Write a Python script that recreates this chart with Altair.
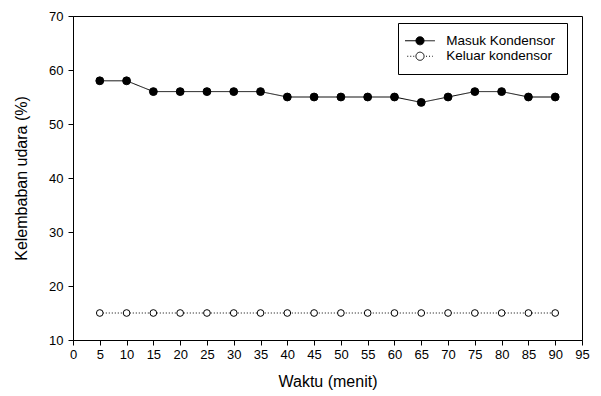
import altair as alt
import pandas as pd

# data
waktu = [5, 10, 15, 20, 25, 30, 35, 40, 45, 50, 55, 60, 65, 70, 75, 80, 85, 90]
masuk = [58, 58, 56, 56, 56, 56, 56, 55, 55, 55, 55, 55, 54, 55, 56, 56, 55, 55]
keluar = [15, 15, 15, 15, 15, 15, 15, 15, 15, 15, 15, 15, 15, 15, 15, 15, 15, 15]
series_names = ["Masuk Kondensor", "Keluar kondensor"]
x_ticks = list(range(0, 100, 5))
y_ticks = [10, 20, 30, 40, 50, 60, 70]

rows = []
for t, v in zip(waktu, masuk):
    rows.append({"waktu": t, "nilai": v, "seri": series_names[0], "seri2": series_names[0]})
for t, v in zip(waktu, keluar):
    rows.append({"waktu": t, "nilai": v, "seri": series_names[1], "seri2": series_names[1]})
df = pd.DataFrame(rows)

FONT = "Liberation Sans"

x_enc = alt.X(
    "waktu:Q",
    scale=alt.Scale(domain=[0, 95], nice=False),
    axis=alt.Axis(values=x_ticks, title="Waktu (menit)", grid=False, tickSize=5,
                  labelPadding=3, titlePadding=12, labelFontSize=13, titleFontSize=16,
                  labelFlush=False, titleFontWeight="normal", labelFont=FONT, titleFont=FONT,
                  domainColor="black", tickColor="black", labelColor="black", titleColor="black"),
)
y_enc = alt.Y(
    "nilai:Q",
    scale=alt.Scale(domain=[10, 70], nice=False),
    axis=alt.Axis(values=y_ticks, title="Kelembaban udara (%)", grid=False, tickSize=5,
                  labelPadding=5, titlePadding=19, labelFontSize=13, titleFontSize=16,
                  labelFlush=False, titleFontWeight="normal", labelFont=FONT, titleFont=FONT,
                  domainColor="black", tickColor="black", labelColor="black", titleColor="black"),
)

LX, LY = 325, 7

lines = alt.Chart(df).mark_line(color="black", strokeWidth=1).encode(
    x=x_enc,
    y=y_enc,
    strokeDash=alt.StrokeDash(
        "seri:N",
        scale=alt.Scale(domain=series_names, range=[[1, 0], [1, 2]]),
        legend=alt.Legend(
            title=None, orient="none", legendX=LX, legendY=LY,
            symbolType="M-3.8,0H-0.9M0.9,0H3.8", symbolSize=100,
            symbolStrokeColor="black", symbolStrokeWidth=1,
            symbolOffset=4.25, labelOffset=19.5,
            labelFont=FONT, labelFontSize=13.5, labelColor="black",
            padding=11, rowPadding=0.5, strokeColor="black",
        ),
    ),
)

points = alt.Chart(df).mark_point(shape="circle", filled=True, stroke="black",
                                  strokeWidth=1, opacity=1).encode(
    x=x_enc,
    y=y_enc,
    fill=alt.Fill(
        "seri2:N",
        sort=series_names,
        scale=alt.Scale(range=["black", "white"]),
        legend=alt.Legend(
            title=None, orient="none", legendX=LX, legendY=LY,
            symbolType="circle", symbolSize=66,
            symbolStrokeColor="black", symbolStrokeWidth=1, symbolDash=[1, 0],
            symbolOffset=4.25, labelOffset=19.5,
            labelFont=FONT, labelFontSize=13.5, labelOpacity=0,
            padding=11, rowPadding=0.5,
        ),
    ),
    size=alt.Size("seri:N", scale=alt.Scale(domain=series_names, range=[62, 45]), legend=None),
)

chart = alt.layer(lines, points).properties(
    width=509,
    height=324,
    background="white",
    autosize=alt.AutoSizeParams(type="none"),
    padding={"left": 65, "top": 8, "right": 11, "bottom": 60},
).configure_view(
    stroke="black", strokeWidth=1
)

chart.save("out.html", embed_options={"renderer": "svg", "actions": False})
